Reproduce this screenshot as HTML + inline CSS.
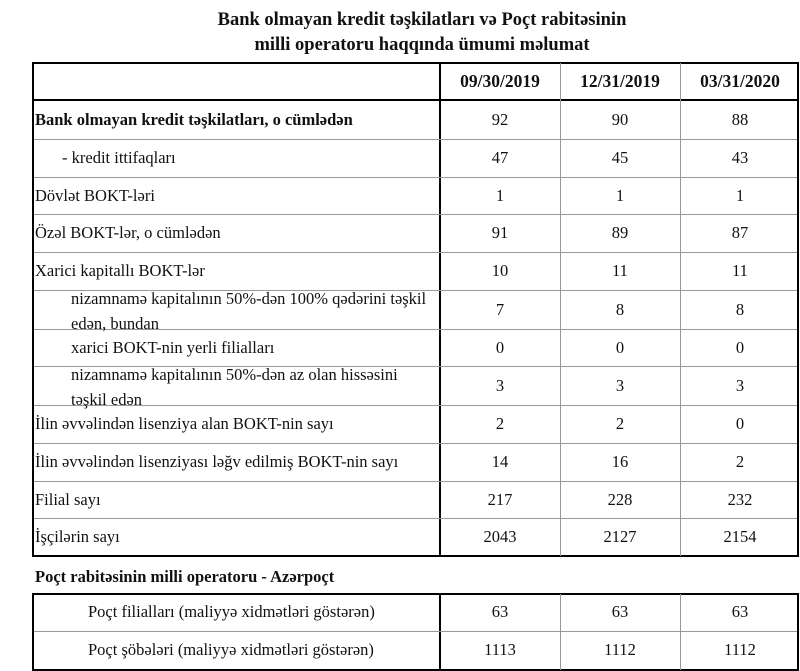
<!DOCTYPE html>
<html><head><meta charset="utf-8"><style>
body{margin:0;width:800px;height:671px;background:#fff;font-family:"Liberation Serif",serif;color:#111;position:relative;overflow:hidden}
.t{position:absolute;left:0;width:844px;text-align:center;font-weight:bold;font-size:18.5px}
.box{position:absolute;border:2px solid #000;box-sizing:border-box}
.h{position:absolute;height:1px;background:#999}
.v{position:absolute;width:1px;background:#999}
.vb{position:absolute;width:2px;background:#000}
.lab{position:absolute;font-size:16.5px;line-height:25px;white-space:nowrap}
.n{position:absolute;font-size:16.5px;width:118px;text-align:center}
.b{font-weight:bold}
.d{font-size:17.5px}
</style></head><body>
<div class="t" style="top:10px">Bank olmayan kredit təşkilatları və Poçt rabitəsinin</div>
<div class="t" style="top:35px">milli operatoru haqqında ümumi məlumat</div>

<div class="box" style="left:32px;top:62px;width:767px;height:495px"></div>
<div class="vb" style="left:439px;top:62px;height:495px"></div>
<div style="position:absolute;left:32px;top:99px;width:767px;height:2px;background:#000"></div>
<div class="v" style="left:560px;top:63px;height:493px"></div>
<div class="v" style="left:680px;top:63px;height:493px"></div>

<div class="h" style="left:34px;width:763px;top:139px"></div>
<div class="h" style="left:34px;width:763px;top:177px"></div>
<div class="h" style="left:34px;width:763px;top:214px"></div>
<div class="h" style="left:34px;width:763px;top:252px"></div>
<div class="h" style="left:34px;width:763px;top:290px"></div>
<div class="h" style="left:34px;width:763px;top:329px"></div>
<div class="h" style="left:34px;width:763px;top:366px"></div>
<div class="h" style="left:34px;width:763px;top:405px"></div>
<div class="h" style="left:34px;width:763px;top:443px"></div>
<div class="h" style="left:34px;width:763px;top:481px"></div>
<div class="h" style="left:34px;width:763px;top:518px"></div>

<div class="n b d" style="left:441px;top:71px">09/30/2019</div>
<div class="n b d" style="left:561px;top:71px">12/31/2019</div>
<div class="n b d" style="left:681px;top:71px">03/31/2020</div>

<div class="lab b" style="left:35px;top:107px">Bank olmayan kredit təşkilatları, o cümlədən</div>
<div class="lab" style="left:62px;top:145px">- kredit ittifaqları</div>
<div class="lab" style="left:35px;top:183px">Dövlət BOKT-ləri</div>
<div class="lab" style="left:35px;top:220px">Özəl BOKT-lər, o cümlədən</div>
<div class="lab" style="left:35px;top:258px">Xarici kapitallı BOKT-lər</div>
<div class="lab" style="left:71px;top:286px">nizamnamə kapitalının 50%-dən 100% qədərini təşkil<br>edən, bundan</div>
<div class="lab" style="left:71px;top:335px">xarici BOKT-nin yerli filialları</div>
<div class="lab" style="left:71px;top:362px">nizamnamə kapitalının 50%-dən az olan hissəsini<br>təşkil edən</div>
<div class="lab" style="left:35px;top:411px">İlin əvvəlindən lisenziya alan BOKT-nin sayı</div>
<div class="lab" style="left:35px;top:449px">İlin əvvəlindən lisenziyası ləğv edilmiş BOKT-nin sayı</div>
<div class="lab" style="left:35px;top:487px">Filial sayı</div>
<div class="lab" style="left:35px;top:524px">İşçilərin sayı</div>

<div class="n" style="left:441px;top:110px">92</div><div class="n" style="left:561px;top:110px">90</div><div class="n" style="left:681px;top:110px">88</div>
<div class="n" style="left:441px;top:148px">47</div><div class="n" style="left:561px;top:148px">45</div><div class="n" style="left:681px;top:148px">43</div>
<div class="n" style="left:441px;top:186px">1</div><div class="n" style="left:561px;top:186px">1</div><div class="n" style="left:681px;top:186px">1</div>
<div class="n" style="left:441px;top:223px">91</div><div class="n" style="left:561px;top:223px">89</div><div class="n" style="left:681px;top:223px">87</div>
<div class="n" style="left:441px;top:261px">10</div><div class="n" style="left:561px;top:261px">11</div><div class="n" style="left:681px;top:261px">11</div>
<div class="n" style="left:441px;top:300px">7</div><div class="n" style="left:561px;top:300px">8</div><div class="n" style="left:681px;top:300px">8</div>
<div class="n" style="left:441px;top:338px">0</div><div class="n" style="left:561px;top:338px">0</div><div class="n" style="left:681px;top:338px">0</div>
<div class="n" style="left:441px;top:376px">3</div><div class="n" style="left:561px;top:376px">3</div><div class="n" style="left:681px;top:376px">3</div>
<div class="n" style="left:441px;top:414px">2</div><div class="n" style="left:561px;top:414px">2</div><div class="n" style="left:681px;top:414px">0</div>
<div class="n" style="left:441px;top:452px">14</div><div class="n" style="left:561px;top:452px">16</div><div class="n" style="left:681px;top:452px">2</div>
<div class="n" style="left:441px;top:490px">217</div><div class="n" style="left:561px;top:490px">228</div><div class="n" style="left:681px;top:490px">232</div>
<div class="n" style="left:441px;top:527px">2043</div><div class="n" style="left:561px;top:527px">2127</div><div class="n" style="left:681px;top:527px">2154</div>

<div class="lab b" style="left:35px;top:564px">Poçt rabitəsinin milli operatoru - Azərpoçt</div>

<div class="box" style="left:32px;top:593px;width:767px;height:78px"></div>
<div class="vb" style="left:439px;top:593px;height:78px"></div>
<div class="v" style="left:560px;top:594px;height:76px"></div>
<div class="v" style="left:680px;top:594px;height:76px"></div>
<div class="h" style="left:34px;width:763px;top:631px"></div>
<div class="lab" style="left:88px;top:599px">Poçt filialları (maliyyə xidmətləri göstərən)</div>
<div class="lab" style="left:88px;top:637px">Poçt şöbələri (maliyyə xidmətləri göstərən)</div>
<div class="n" style="left:441px;top:602px">63</div><div class="n" style="left:561px;top:602px">63</div><div class="n" style="left:681px;top:602px">63</div>
<div class="n" style="left:441px;top:640px">1113</div><div class="n" style="left:561px;top:640px">1112</div><div class="n" style="left:681px;top:640px">1112</div>
</body></html>
